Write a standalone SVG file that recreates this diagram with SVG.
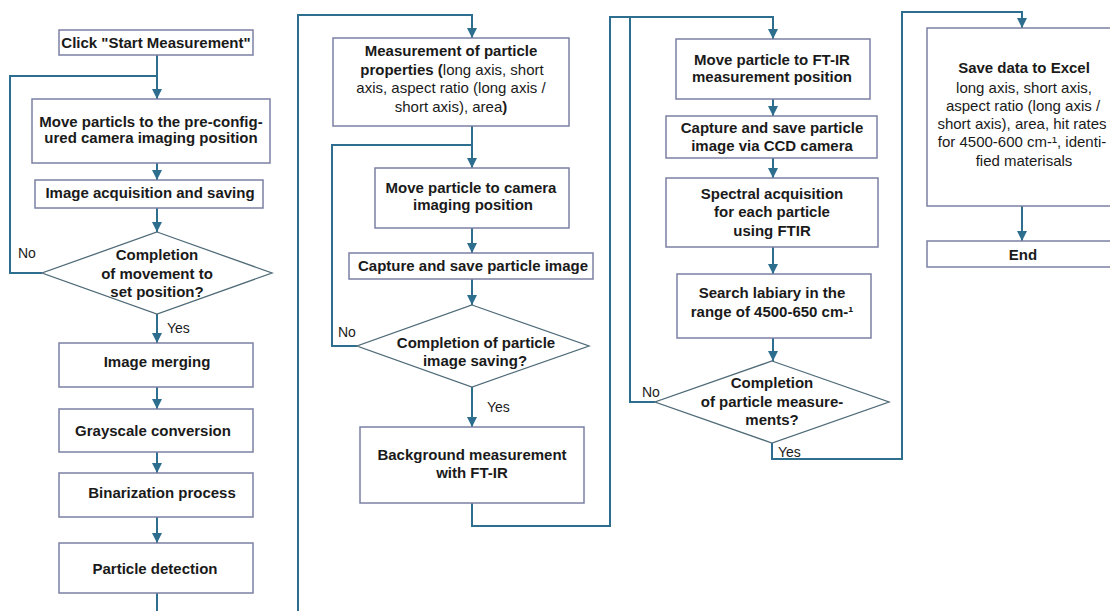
<svg xmlns="http://www.w3.org/2000/svg" width="1110" height="611" viewBox="0 0 1110 611">
<defs>
<style>
.box{fill:#ffffff;stroke:#7b80a3;stroke-width:1.5}
.dia{fill:#ffffff;stroke:#4f6b78;stroke-width:1.3}
.con{fill:none;stroke:#2d6e8e;stroke-width:2}
.b{font-family:"Liberation Sans",Arial,sans-serif;font-size:15px;font-weight:bold;fill:#1a1a1a;text-anchor:middle}
.n{font-family:"Liberation Sans",Arial,sans-serif;font-weight:normal;fill:#1a1a1a}
.lbl{font-family:"Liberation Sans",Arial,sans-serif;font-size:14px;fill:#1a1a1a}
</style>
<marker id="ah" viewBox="0 0 10 10" refX="10" refY="5" markerWidth="5" markerHeight="5" orient="auto" markerUnits="strokeWidth">
<path d="M0,0 L10,5 L0,10 z" fill="#2d6e8e"/>
</marker>
</defs>
<rect width="1110" height="611" fill="#ffffff"/>

<g id="connectors">
<path class="con" d="M157,55 V99" marker-end="url(#ah)"/>
<path class="con" d="M42,273 H10 V76 H157"/>
<path class="con" d="M157,163 V180" marker-end="url(#ah)"/>
<path class="con" d="M157,208 V232" marker-end="url(#ah)"/>
<path class="con" d="M157,314 V343" marker-end="url(#ah)"/>
<path class="con" d="M157,387 V409" marker-end="url(#ah)"/>
<path class="con" d="M157,452 V473" marker-end="url(#ah)"/>
<path class="con" d="M157,517 V543" marker-end="url(#ah)"/>
<path class="con" d="M157,593 V611"/>
<path class="con" d="M298,611 V15 H472 V38" marker-end="url(#ah)"/>
<path class="con" d="M472,126 V168" marker-end="url(#ah)"/>
<path class="con" d="M357,346 H332 V145 H472"/>
<path class="con" d="M472,228 V253" marker-end="url(#ah)"/>
<path class="con" d="M472,279 V305" marker-end="url(#ah)"/>
<path class="con" d="M472,387 V427" marker-end="url(#ah)"/>
<path class="con" d="M472,503 V526 H610 V17 H773 V39" marker-end="url(#ah)"/>
<path class="con" d="M655,402 H630 V17"/>
<path class="con" d="M773,99 V116" marker-end="url(#ah)"/>
<path class="con" d="M773,158 V178" marker-end="url(#ah)"/>
<path class="con" d="M773,247 V274" marker-end="url(#ah)"/>
<path class="con" d="M773,338 V361" marker-end="url(#ah)"/>
<path class="con" d="M772,443 V459 H902 V12 H1022 V28" marker-end="url(#ah)"/>
<path class="con" d="M1022,206 V241" marker-end="url(#ah)"/>
</g>

<g id="n-start">
<rect class="box" x="59" y="30" width="194" height="25"/>
<text class="b" x="156" y="48">Click "Start Measurement"</text>
</g>
<g id="n-move1">
<rect class="box" x="32" y="99" width="238" height="64"/>
<text class="b" x="151" y="127">Move particls to the pre-config-</text>
<text class="b" x="151" y="143">ured camera imaging position</text>
</g>
<g id="n-acq">
<rect class="box" x="35" y="180" width="228" height="28"/>
<text class="b" x="150" y="198">Image acquisition and saving</text>
</g>
<g id="n-dec1">
<polygon class="dia" points="157,232 272,273 157,314 42,273"/>
<text class="b" x="157" y="260">Completion</text>
<text class="b" x="157" y="279">of movement to</text>
<text class="b" x="157" y="297">set position?</text>
<text class="lbl" x="18" y="258">No</text>
<text class="lbl" x="167" y="333">Yes</text>
</g>
<g id="n-merge">
<rect class="box" x="59" y="343" width="194" height="44"/>
<text class="b" x="157" y="367">Image merging</text>
</g>
<g id="n-gray">
<rect class="box" x="59" y="409" width="194" height="43"/>
<text class="b" x="153" y="436">Grayscale conversion</text>
</g>
<g id="n-bin">
<rect class="box" x="59" y="473" width="194" height="44"/>
<text class="b" x="162" y="498">Binarization process</text>
</g>
<g id="n-detect">
<rect class="box" x="59" y="543" width="194" height="50"/>
<text class="b" x="155" y="574">Particle detection</text>
</g>

<g id="n-props">
<rect class="box" x="333" y="38" width="236" height="88"/>
<text class="b" x="451" y="56">Measurement of particle</text>
<text class="b" x="452" y="75">properties (<tspan class="n">long axis, short</tspan></text>
<text class="b" x="451" y="93"><tspan class="n">axis, aspect ratio (long axis /</tspan></text>
<text class="b" x="451" y="112"><tspan class="n">short axis), area</tspan>)</text>
</g>
<g id="n-move2">
<rect class="box" x="375" y="168" width="194" height="60"/>
<text class="b" x="471" y="193">Move particle to camera</text>
<text class="b" x="473" y="210">imaging position</text>
</g>
<g id="n-capture">
<rect class="box" x="349" y="253" width="244" height="26"/>
<text class="b" x="473" y="271">Capture and save particle image</text>
</g>
<g id="n-dec2">
<polygon class="dia" points="472,305 589,346 472,387 357,346"/>
<text class="b" x="476" y="348">Completion of particle</text>
<text class="b" x="475" y="366">image saving?</text>
<text class="lbl" x="338" y="337">No</text>
<text class="lbl" x="487" y="412">Yes</text>
</g>
<g id="n-bg">
<rect class="box" x="360" y="427" width="224" height="76"/>
<text class="b" x="472" y="460">Background measurement</text>
<text class="b" x="472" y="478">with FT-IR</text>
</g>

<g id="n-moveft">
<rect class="box" x="676" y="39" width="194" height="60"/>
<text class="b" x="772" y="65">Move particle to FT-IR</text>
<text class="b" x="772" y="82">measurement position</text>
</g>
<g id="n-ccd">
<rect class="box" x="666" y="116" width="211" height="42"/>
<text class="b" x="772" y="133">Capture and save particle</text>
<text class="b" x="772" y="151">image via CCD camera</text>
</g>
<g id="n-spec">
<rect class="box" x="666" y="178" width="212" height="69"/>
<text class="b" x="772" y="199">Spectral acquisition</text>
<text class="b" x="772" y="217">for each particle</text>
<text class="b" x="772" y="236">using FTIR</text>
</g>
<g id="n-search">
<rect class="box" x="677" y="274" width="194" height="64"/>
<text class="b" x="772" y="298">Search labiary in the</text>
<text class="b" x="772" y="317">range of 4500-650 cm-¹</text>
</g>
<g id="n-dec3">
<polygon class="dia" points="772,361 889,402 772,443 655,402"/>
<text class="b" x="772" y="388">Completion</text>
<text class="b" x="772" y="407">of particle measure-</text>
<text class="b" x="772" y="425">ments?</text>
<text class="lbl" x="642" y="397">No</text>
<text class="lbl" x="778" y="457">Yes</text>
</g>

<g id="n-save">
<rect class="box" x="927" y="28" width="190" height="178"/>
<text class="b" x="1024" y="73">Save data to Excel</text>
<text class="b" x="1024" y="93"><tspan class="n">long axis, short axis,</tspan></text>
<text class="b" x="1023" y="111"><tspan class="n">aspect ratio (long axis /</tspan></text>
<text class="b" x="1022" y="129"><tspan class="n">short axis), area, hit rates</tspan></text>
<text class="b" x="1022" y="147"><tspan class="n">for 4500-600 cm-¹, identi-</tspan></text>
<text class="b" x="1024" y="166"><tspan class="n">fied materisals</tspan></text>
</g>
<g id="n-end">
<rect class="box" x="927" y="241" width="190" height="26"/>
<text class="b" x="1023" y="260">End</text>
</g>
</svg>
